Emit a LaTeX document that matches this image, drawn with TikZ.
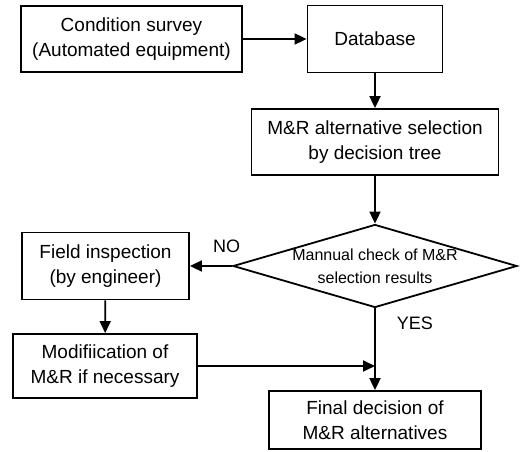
\documentclass[tikz,border=0pt]{standalone}
\usepackage{fontspec}
\setmainfont{Liberation Sans}
\usetikzlibrary{shapes.geometric,arrows.meta}

\begin{document}
\begin{tikzpicture}[x=1pt, y=-1pt,
    box/.style={draw, line width=1.8pt, align=center, inner sep=0pt,
        font=\fontsize{19}{25}\selectfont},
    decide/.style={draw, diamond, line width=1.8pt, align=center, inner sep=0pt,
        minimum width=284pt, minimum height=83pt, font=\fontsize{16}{23}\selectfont},
    arr/.style={line width=1.8pt, -{Triangle[length=12pt, width=11pt]}},
    lbl/.style={inner sep=0pt, font=\fontsize{18}{20}\selectfont}]

    \useasboundingbox (0, 0) rectangle (520, 452);

    \node [box, minimum width=221pt, minimum height=66pt] (survey) at (131.5, 39) {Condition survey\\(Automated equipment)};
    \node [box, minimum width=135pt, minimum height=67pt] (db) at (375, 39) {Database};
    \node [box, minimum width=247pt, minimum height=66pt] (select) at (375, 142) {M\&R alternative selection\\by decision tree};
    \node [decide] (check) at (375, 266) {\makebox[0pt]{Mannual check of M\&R}\\\makebox[0pt]{selection results}};
    \node [box, minimum width=167pt, minimum height=67pt] (field) at (105.5, 266) {Field inspection\\(by engineer)};
    \node [box, minimum width=184pt, minimum height=64pt] (modif) at (105, 366) {Modifiication of\\M\&R if necessary};
    \node [box, minimum width=212pt, minimum height=58pt] (final) at (375, 420) {Final decision of\\M\&R alternatives};
    \coordinate (join) at (375, 366);

    \draw [arr] (survey) to (db);
    \draw [arr] (db) to (select);
    \draw [arr] (select) to (check);
    \draw [arr] (check.west) to node [lbl, pos=0.13, above=12pt] {NO} (field.east);
    \draw [arr] (field) to (modif);
    \draw [arr] (modif) to (join);
    \draw [arr] (check.south) to node [lbl, pos=0.18, right=21pt] {YES} (final.north);

\end{tikzpicture}
\end{document}
